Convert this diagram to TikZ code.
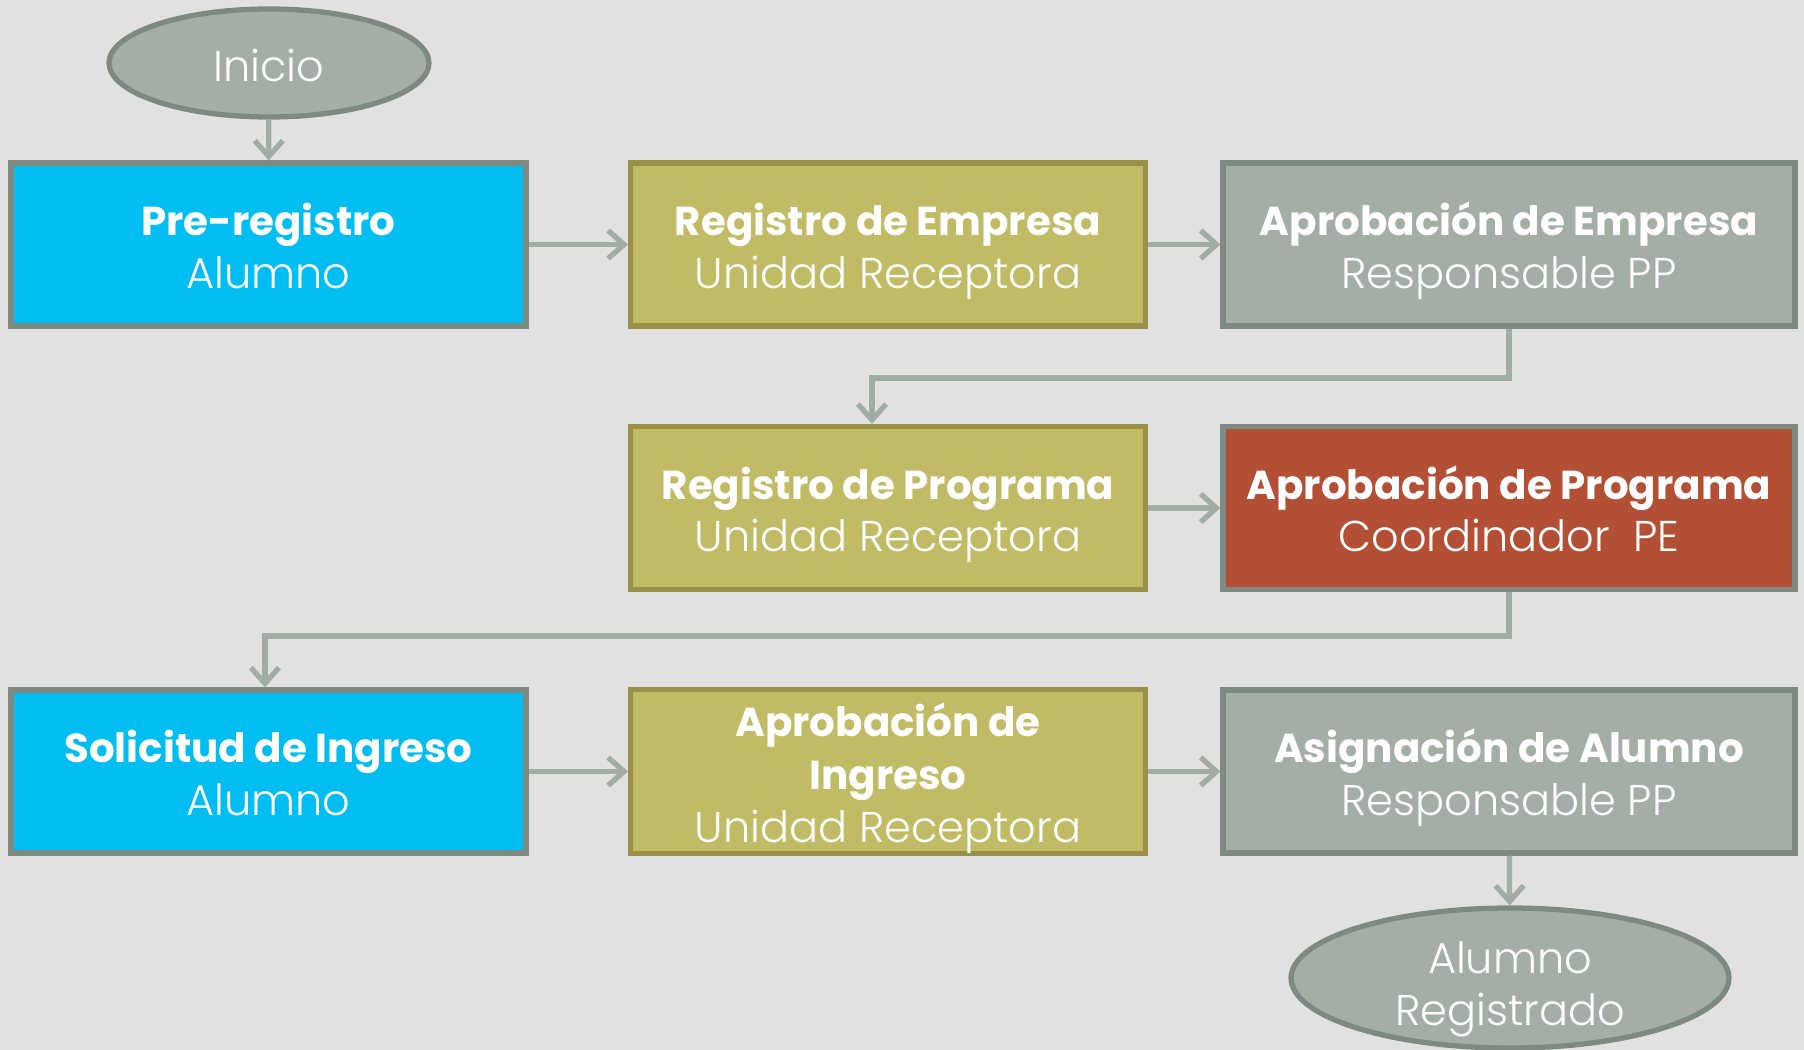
\documentclass[tikz,border=0pt]{standalone}
\usepackage{fontspec}
\setmainfont{Poppins}[UprightFont=* Light,BoldFont=* Bold]
\usetikzlibrary{arrows.meta,shapes.geometric}

\definecolor{fondo}{HTML}{E1E1E1}
\definecolor{celeste}{HTML}{00BEF2}
\definecolor{olivo}{HTML}{C1BB65}
\definecolor{olivoborde}{HTML}{9A9149}
\definecolor{gris}{HTML}{A4ADA6}
\definecolor{grisborde}{HTML}{7E8981}
\definecolor{rojo}{HTML}{B24F35}
\definecolor{flechagris}{HTML}{A1ACA6}

\newcommand{\titulo}[2][29pt]{{\fontsize{23}{30}\selectfont\bfseries\rule{0pt}{#1}#2}}
\newcommand{\titulomas}[1]{{\fontsize{23}{30}\selectfont\bfseries\strut #1}}
\newcommand{\quien}[1]{\strut #1}

\tikzset{
    caja/.style={draw=grisborde,line width=3pt,minimum height=3.26cm,inner sep=0pt,
        align=center,text=white,font=\fontsize{24.5}{30}\selectfont},
    angosta/.style={caja,minimum width=10.3cm},
    ancha/.style={caja,minimum width=11.44cm},
    terminal/.style={ellipse,draw=grisborde,fill=gris,line width=3pt,inner sep=0pt},
    letrero/.style={align=center,text=white,font=\fontsize{24.5}{30}\selectfont},
    flecha/.style={draw=flechagris,line width=3pt,-{Straight Barb[length=9pt,width=16pt,line width=3pt]}}
}

\begin{document}
\begin{tikzpicture}[x=0.02cm,y=-0.02cm]
    \fill[fondo] (0,0) rectangle (1804,1050);
    \useasboundingbox (0,0) rectangle (1804,1050);

    \node[terminal,minimum width=6.4cm,minimum height=2.16cm] (inicio) at (269,63) {};
    \node[letrero] (iniciotexto) at (269,65) {Inicio};

    \node[angosta,fill=celeste] (prereg) at (268.5,244.5) {\titulo{Pre-registro}\\\quien{Alumno}};
    \node[angosta,fill=olivo,draw=olivoborde] (regemp) at (888,244.5) {\titulo{Registro de Empresa}\\\quien{Unidad Receptora}};
    \node[ancha,fill=gris] (aprobemp) at (1509,244.5) {\titulo{Aprobación de Empresa}\\\quien{Responsable PP}};

    \node[angosta,fill=olivo,draw=olivoborde] (regprog) at (888,508) {\titulo{Registro de Programa}\\\quien{Unidad Receptora}};
    \node[ancha,fill=rojo] (aprobprog) at (1509,508) {\titulo{Aprobación de Programa}\\\quien{Coordinador~~PE}};

    \node[angosta,fill=celeste] (solicitud) at (268.5,771.5) {\titulo{Solicitud de Ingreso}\\\quien{Alumno}};
    \node[angosta,fill=olivo,draw=olivoborde] (aprobing) at (888,771.5) {\titulo[27pt]{Aprobación de}\\\titulomas{Ingreso}\\Unidad Receptora};
    \node[ancha,fill=gris] (asignacion) at (1509,771.5) {\titulo{Asignación de Alumno}\\\quien{Responsable PP}};

    \node[terminal,minimum width=8.76cm,minimum height=2.8cm] (fin) at (1510,978) {};
    \node[letrero] (fintexto) at (1510,989) {\quien{Alumno}\\\quien{Registrado}};

    \coordinate (codo1) at (872,378);
    \coordinate (codo2) at (265,636);

    \draw[flecha] (inicio) -- (prereg);
    \draw[flecha] (prereg) -- (regemp);
    \draw[flecha] (regemp) -- (aprobemp);
    \draw[flecha] (aprobemp.south) |- (codo1) -- (codo1 |- regprog.north);
    \draw[flecha] (regprog) -- (aprobprog);
    \draw[flecha] (aprobprog.south) |- (codo2) -- (codo2 |- solicitud.north);
    \draw[flecha] (solicitud) -- (aprobing);
    \draw[flecha] (aprobing) -- (asignacion);
    \draw[flecha] (asignacion) -- (fin);

\end{tikzpicture}
\end{document}
